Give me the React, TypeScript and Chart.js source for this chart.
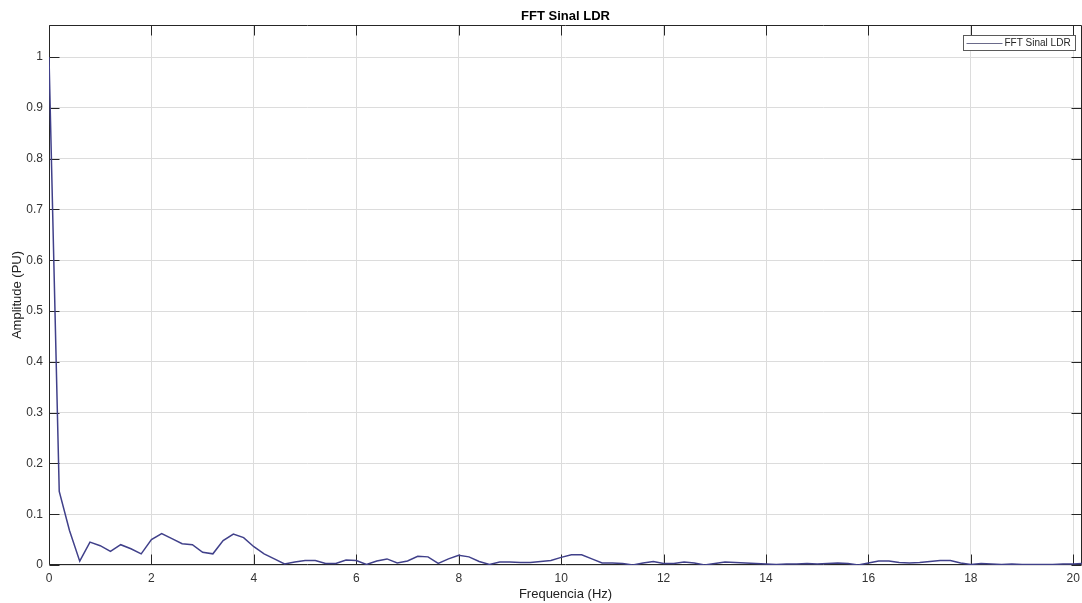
import React, { useEffect, useRef } from 'react';
import { Chart, registerables } from 'chart.js';

Chart.register(...registerables);

const chartTitle = 'FFT Sinal LDR';
const seriesLabel = 'FFT Sinal LDR';
const xAxisLabel = 'Frequencia (Hz)';
const yAxisLabel = 'Amplitude (PU)';

const frequencies = [
  0.0, 0.2, 0.4, 0.6, 0.8, 1.0, 1.2, 1.4, 1.6, 1.8,
  2.0, 2.2, 2.4, 2.6, 2.8, 3.0, 3.2, 3.4, 3.6, 3.8,
  4.0, 4.2, 4.4, 4.6, 4.8, 5.0, 5.2, 5.4, 5.6, 5.8,
  6.0, 6.2, 6.4, 6.6, 6.8, 7.0, 7.2, 7.4, 7.6, 7.8,
  8.0, 8.2, 8.4, 8.6, 8.8, 9.0, 9.2, 9.4, 9.6, 9.8,
  10.0, 10.2, 10.4, 10.6, 10.8, 11.0, 11.2, 11.4, 11.6, 11.8,
  12.0, 12.2, 12.4, 12.6, 12.8, 13.0, 13.2, 13.4, 13.6, 13.8,
  14.0, 14.2, 14.4, 14.6, 14.8, 15.0, 15.2, 15.4, 15.6, 15.8,
  16.0, 16.2, 16.4, 16.6, 16.8, 17.0, 17.2, 17.4, 17.6, 17.8,
  18.0, 18.2, 18.4, 18.6, 18.8, 19.0, 19.2, 19.4, 19.6, 19.8,
  20.0, 20.2,
];

const amplitudes = [
  1.0, 0.145, 0.068, 0.0075, 0.045, 0.038, 0.027, 0.040, 0.032, 0.022,
  0.050, 0.062, 0.052, 0.042, 0.040, 0.025, 0.022, 0.048, 0.061, 0.054,
  0.036, 0.022, 0.012, 0.002, 0.006, 0.009, 0.009, 0.003, 0.003, 0.010,
  0.009, 0.001, 0.008, 0.012, 0.004, 0.008, 0.017, 0.016, 0.003, 0.012,
  0.019, 0.016, 0.007, 0.001, 0.006, 0.006, 0.005, 0.005, 0.007, 0.009,
  0.015, 0.020, 0.020, 0.012, 0.004, 0.004, 0.003, 0.000, 0.004, 0.007,
  0.003, 0.003, 0.006, 0.004, 0.000, 0.003, 0.006, 0.005, 0.004, 0.003,
  0.002, 0.001, 0.002, 0.002, 0.003, 0.002, 0.003, 0.004, 0.003, 0.000,
  0.004, 0.008, 0.008, 0.005, 0.004, 0.005, 0.007, 0.009, 0.009, 0.004,
  0.001, 0.003, 0.002, 0.001, 0.002, 0.001, 0.001, 0.001, 0.001, 0.002,
  0.002, 0.003,
];

const xTickValues = [0, 2, 4, 6, 8, 10, 12, 14, 16, 18, 20];
const yTickValues = [0, 0.1, 0.2, 0.3, 0.4, 0.5, 0.6, 0.7, 0.8, 0.9, 1];

const X_MIN = 0;
const X_MAX = 20.17;
const Y_MIN = 0;
const Y_MAX = 1.063;

const FONT = '"Liberation Sans", Arial, Helvetica, sans-serif';
const LINE_COLOR = '#40408a';
const AXIS_COLOR = '#262626';
const GRID_COLOR = '#dcdcdc';

const matlabAxesPlugin = {
  id: 'matlabAxes',
  beforeDatasetsDraw(chart: any) {
    const { ctx, chartArea } = chart;
    const xs = chart.scales.x;
    const ys = chart.scales.y;
    const L = Math.round(chartArea.left) + 0.5;
    const R = Math.round(chartArea.right) - 0.5;
    const T = Math.round(chartArea.top) + 0.5;
    const B = Math.round(chartArea.bottom) - 0.5;
    const tl = 10;
    ctx.save();
    ctx.strokeStyle = AXIS_COLOR;
    ctx.lineWidth = 1;
    ctx.beginPath();
    ctx.rect(L, T, R - L, B - T);
    xTickValues.forEach((v) => {
      const px = Math.round(xs.getPixelForValue(v)) + 0.5;
      ctx.moveTo(px, B);
      ctx.lineTo(px, B - tl);
      ctx.moveTo(px, T);
      ctx.lineTo(px, T + tl);
    });
    yTickValues.forEach((v) => {
      const py = Math.round(ys.getPixelForValue(v)) + 0.5;
      ctx.moveTo(L, py);
      ctx.lineTo(L + tl, py);
      ctx.moveTo(R, py);
      ctx.lineTo(R - tl, py);
    });
    ctx.stroke();
    ctx.restore();
  },
  afterDraw(chart: any) {
    const { ctx, chartArea } = chart;
    ctx.save();
    ctx.fillStyle = '#000000';
    ctx.font = `bold 13px ${FONT}`;
    ctx.textAlign = 'center';
    ctx.textBaseline = 'middle';
    ctx.fillText(chartTitle, (chartArea.left + chartArea.right) / 2, 16.5);

    ctx.font = `10px ${FONT}`;
    const textW = ctx.measureText(seriesLabel).width;
    const boxRight = Math.round(chartArea.right) - 6.5;
    const boxTop = Math.round(chartArea.top) + 10.5;
    const boxH = 15;
    const sampleW = 36;
    const boxW = 3 + sampleW + 2 + textW + 5;
    const boxLeft = Math.round(boxRight - boxW) + 0.5;
    ctx.fillStyle = '#ffffff';
    ctx.fillRect(boxLeft, boxTop, boxRight - boxLeft, boxH);
    ctx.strokeStyle = '#5a5a5a';
    ctx.lineWidth = 1;
    ctx.strokeRect(boxLeft, boxTop, boxRight - boxLeft, boxH);
    const midY = boxTop + boxH / 2;
    ctx.strokeStyle = '#6a6a8a';
    ctx.beginPath();
    ctx.moveTo(boxLeft + 3, Math.round(midY) + 0.5);
    ctx.lineTo(boxLeft + 3 + sampleW, Math.round(midY) + 0.5);
    ctx.stroke();
    ctx.fillStyle = AXIS_COLOR;
    ctx.textAlign = 'left';
    ctx.textBaseline = 'middle';
    ctx.fillText(seriesLabel, boxLeft + 3 + sampleW + 2, midY + 0.5);
    ctx.restore();
  },
};

function formatTick(v: number): string {
  return String(Number(v.toFixed(1)));
}

export default function App() {
  const canvasRef = useRef<HTMLCanvasElement | null>(null);

  useEffect(() => {
    if (!canvasRef.current) return;
    const points = frequencies.map((f, i) => ({ x: f, y: amplitudes[i] }));
    const chart = new Chart(canvasRef.current, {
      type: 'line',
      data: {
        datasets: [
          {
            label: seriesLabel,
            data: points,
            borderColor: LINE_COLOR,
            backgroundColor: LINE_COLOR,
            borderWidth: 1.5,
            pointRadius: 0,
            tension: 0,
            fill: false,
          },
        ],
      },
      options: {
        responsive: false,
        animation: false,
        events: [],
        layout: { padding: { top: 25, left: 0, right: 0, bottom: 0 } },
        plugins: {
          legend: { display: false },
          title: { display: false },
          tooltip: { enabled: false },
        },
        scales: {
          x: {
            type: 'linear',
            min: X_MIN,
            max: X_MAX,
            afterFit: (s: any) => {
              s.height = 38;
              s.paddingLeft = 0;
              s.paddingRight = 0;
            },
            afterBuildTicks: (s: any) => {
              s.ticks = xTickValues.map((v) => ({ value: v }));
            },
            ticks: {
              autoSkip: false,
              maxRotation: 0,
              padding: 6,
              color: '#333333',
              font: { family: FONT, size: 12 },
              callback: (v: any) => formatTick(Number(v)),
            },
            grid: { color: GRID_COLOR, drawTicks: false, lineWidth: 1 },
            border: { display: false },
            title: {
              display: true,
              text: xAxisLabel,
              color: '#222222',
              font: { family: FONT, size: 13 },
              padding: { top: 0, bottom: 1.2 },
            },
          },
          y: {
            type: 'linear',
            min: Y_MIN,
            max: Y_MAX,
            afterFit: (s: any) => {
              s.width = 49;
              s.paddingTop = 0;
              s.paddingBottom = 0;
            },
            afterBuildTicks: (s: any) => {
              s.ticks = yTickValues.map((v) => ({ value: v }));
            },
            ticks: {
              autoSkip: false,
              padding: 6,
              color: '#333333',
              font: { family: FONT, size: 12 },
              callback: (v: any) => formatTick(Number(v)),
            },
            grid: { color: GRID_COLOR, drawTicks: false, lineWidth: 1 },
            border: { display: false },
            title: {
              display: true,
              text: yAxisLabel,
              color: '#222222',
              font: { family: FONT, size: 13 },
              padding: { top: 10, bottom: 0 },
            },
          },
        },
      },
      plugins: [matlabAxesPlugin],
    });
    return () => chart.destroy();
  }, []);

  return (
    <div style={{ position: 'fixed', left: 0, top: 0, width: 1082, height: 603, background: '#ffffff' }}>
      <canvas ref={canvasRef} width={1082} height={603} style={{ display: 'block' }} />
    </div>
  );
}
